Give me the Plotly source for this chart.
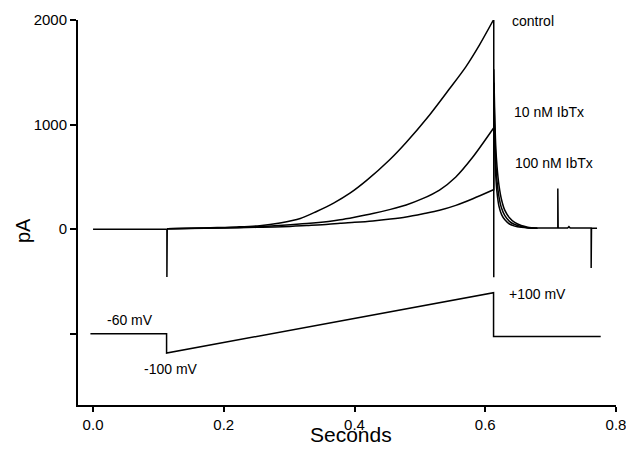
import plotly.graph_objects as go

# ---------------- data ----------------
# holding segment + capacitive transient at ramp onset (control trace)
hold_t = [0.0, 0.113, 0.113, 0.1135]
hold_i = [0, 0, -457, 5]

# ramp currents (pA) vs time (s)
ramp_t_control = [0.1135, 0.15, 0.19, 0.22, 0.255, 0.286, 0.317, 0.342, 0.368, 0.393,
                  0.419, 0.453, 0.479, 0.5145, 0.545, 0.570, 0.591, 0.6125]
ramp_i_control = [5, 10, 16, 22, 34, 60, 102, 170, 250, 345,
                  470, 660, 830, 1090, 1340, 1550, 1760, 2000]

ramp_t_10nm = [0.1135, 0.2, 0.25, 0.29, 0.327, 0.36, 0.378, 0.40, 0.428, 0.455,
               0.479, 0.504, 0.53, 0.555, 0.581, 0.6125]
ramp_i_10nm = [5, 14, 24, 38, 54, 74, 90, 115, 150, 190,
               232, 292, 375, 500, 690, 965]

ramp_t_100nm = [0.1135, 0.2, 0.25, 0.29, 0.327, 0.36, 0.378, 0.40, 0.428, 0.455,
                0.479, 0.505, 0.53, 0.555, 0.581, 0.6125]
ramp_i_100nm = [5, 12, 18, 24, 36, 48, 58, 66, 79, 97,
                117, 148, 181, 228, 292, 378]

# step back at end of ramp (vertical transient)
step_t = [0.6125, 0.613, 0.613]
step_i_control = [2000, 2000, -460]
step_i_10nm = [965, 965, 1400]
step_i_100nm = [378, 378, 1250]

# tail currents
tail_t = [0.613, 0.6145, 0.616, 0.618, 0.621, 0.625, 0.63, 0.637, 0.645, 0.655, 0.665, 0.68]
tail_i_control = [1530, 1100, 800, 600, 420, 280, 180, 110, 65, 35, 20, 12]
tail_i_10nm = [1400, 950, 650, 460, 310, 200, 130, 75, 45, 25, 15, 10]
tail_i_100nm = [1250, 800, 520, 350, 220, 140, 90, 50, 30, 18, 12, 10]

# late baseline with artifacts
late_t = [0.68, 0.711, 0.711, 0.7115, 0.726, 0.728, 0.73, 0.762, 0.762, 0.7625, 0.771]
late_i = [12, 12, 390, 12, 12, 25, 12, 12, -370, 10, 10]

# voltage protocol (drawn offset below, in pA units of the plot)
volt_t = [-0.004, 0.1125, 0.1125, 0.6127, 0.6127, 0.7766]
volt_y = [-1000, -1000, -1184, -607, -1025, -1025]

# labels
label_text = ["control", "10 nM IbTx", "100 nM IbTx", "-60 mV", "-100 mV", "+100 mV"]
label_x = [0.638, 0.641, 0.642, 0.018, 0.075, 0.633]
label_y = [1986, 1117, 630, -869, -1337, -620]

y_tickvals = [-1000, 0, 1000, 2000]
y_ticktext = ["", "0", "1000", "2000"]
x_tickvals = [0.0, 0.2, 0.4, 0.6, 0.8]
x_ticktext = ["0.0", "0.2", "0.4", "0.6", "0.8"]

# ---------------- figure ----------------
FONT = "Liberation Sans, Arial, sans-serif"
LW = 1.5
fig = go.Figure()


def add(x, y, shape="linear", width=LW):
    fig.add_trace(go.Scatter(x=x, y=y, mode="lines",
                             line=dict(color="black", width=width, shape=shape, smoothing=0.8),
                             showlegend=False, hoverinfo="skip"))


add(hold_t, hold_i)
add(ramp_t_100nm, ramp_i_100nm, "spline")
add(ramp_t_10nm, ramp_i_10nm, "spline")
add(ramp_t_control, ramp_i_control, "spline")
add(step_t, step_i_control)
add(step_t, step_i_10nm)
add(step_t, step_i_100nm)
add(tail_t, tail_i_control, "spline")
add(tail_t, tail_i_10nm, "spline")
add(tail_t, tail_i_100nm, "spline")
add(late_t, late_i)
add(volt_t, volt_y)

for t, x, y in zip(label_text, label_x, label_y):
    fig.add_annotation(x=x, y=y, text=t, showarrow=False, xanchor="left", yanchor="middle",
                       font=dict(family=FONT, size=14, color="black"))

fig.add_annotation(xref="paper", yref="paper", x=-0.102, y=0.452, text="pA", textangle=-90,
                   showarrow=False, xanchor="center", yanchor="middle",
                   font=dict(family=FONT, size=20, color="black"))
fig.add_annotation(xref="paper", yref="paper", x=0.507, y=-0.077, text="Seconds",
                   showarrow=False, xanchor="center", yanchor="middle",
                   font=dict(family=FONT, size=21, color="black"))

fig.update_layout(
    width=626, height=450,
    margin=dict(l=78, r=10, t=20, b=45),
    paper_bgcolor="white", plot_bgcolor="white",
    font=dict(family=FONT, size=15, color="black"),
    xaxis=dict(range=[-0.023, 0.8], tickvals=x_tickvals, ticktext=x_ticktext,
               showline=True, linecolor="black", linewidth=2, ticks="outside",
               ticklen=5, tickwidth=1.5, tickcolor="black", showgrid=False, zeroline=False,
               automargin=False, ticklabeloverflow="allow"),
    yaxis=dict(range=[-1680, 2000], tickvals=y_tickvals, ticktext=y_ticktext,
               showline=True, linecolor="black", linewidth=2, ticks="outside",
               ticklen=6, tickwidth=1.5, tickcolor="black", showgrid=False, zeroline=False,
               automargin=False),
)

fig.write_html("out.html", config={"displayModeBar": False},
               post_script="document.body.style.margin='0';document.body.style.overflow='hidden';")
